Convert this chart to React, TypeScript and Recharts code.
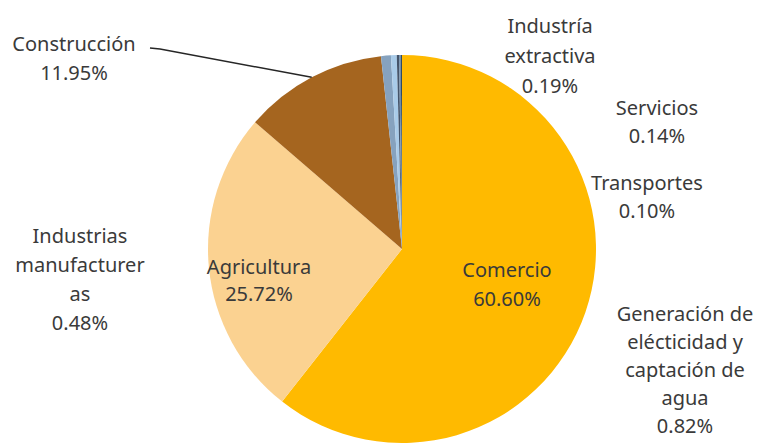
import React from "react";
import { PieChart, Pie, Cell } from "recharts";

// sectores y su participación (%)
const categories = [
  "Comercio",
  "Agricultura",
  "Construcción",
  "Generación de elécticidad y captación de agua",
  "Industrias manufactureras",
  "Industria extractiva",
  "Servicios",
  "Transportes",
];
const shares = [60.6, 25.72, 11.95, 0.82, 0.48, 0.19, 0.14, 0.1];

// texto de cada etiqueta tal como aparece (el % se añade al final)
const labelLines = [
  ["Comercio"],
  ["Agricultura"],
  ["Construcción"],
  ["Generación de", "elécticidad y", "captación de", "agua"],
  ["Industrias", "manufacturer", "as"],
  ["Industría", "extractiva"],
  ["Servicios"],
  ["Transportes"],
];

const sliceColors = ["#FFBA00", "#FBD291", "#A5651F", "#86A2BE", "#A9CBE8", "#44546A", "#6E8BA8", "#2E4A66"];

// dónde va cada etiqueta respecto al centro de la torta
const labelSpots = [
  { dx: 105, dy: 20, lh: 29 },
  { dx: -143, dy: 17, lh: 27 },
  { dx: -328, dy: -206, lh: 29, leader: { dx: -252, dy: -201 } },
  { dx: 283, dy: 64, lh: 28 },
  { dx: -322, dy: -14, lh: 29 },
  { dx: 148, dy: -224, lh: 30 },
  { dx: 255, dy: -142, lh: 28 },
  { dx: 245, dy: -67, lh: 28 },
];

const data = categories.map((name, i) => ({ name, value: shares[i] }));

const renderLabel = (props: any) => {
  const { cx, cy, midAngle, outerRadius, index, value } = props;
  const spot = labelSpots[index];
  const lines = [...labelLines[index], value.toFixed(2) + "%"];
  const x = cx + spot.dx;
  const y0 = cy + spot.dy;
  let leader = null;
  if (spot.leader) {
    const rad = Math.PI / 180;
    const ex = cx + outerRadius * Math.cos(-midAngle * rad);
    const ey = cy + outerRadius * Math.sin(-midAngle * rad);
    const sx = cx + spot.leader.dx;
    const sy = cy + spot.leader.dy;
    leader = (
      <polyline
        points={`${sx},${sy} ${sx + 10},${sy + 1} ${ex},${ey}`}
        fill="none"
        stroke="#262626"
        strokeWidth={1.5}
      />
    );
  }
  return (
    <g key={`lbl-${index}`}>
      {leader}
      {lines.map((t, i) => (
        <text
          key={i}
          x={x}
          y={y0 + i * spot.lh}
          textAnchor="middle"
          dominantBaseline="central"
          fill="#3a3a3a"
          fontSize={20}
          fontFamily="'Noto Sans', sans-serif"
        >
          {t}
        </text>
      ))}
    </g>
  );
};

export default function App() {
  return (
    <div style={{ position: "absolute", left: 0, top: 0, width: 758, height: 443, background: "#fff" }}>
      <PieChart width={758} height={443} margin={{ top: 0, right: 0, bottom: 0, left: 0 }}>
        <Pie
          data={data}
          dataKey="value"
          nameKey="name"
          cx={402}
          cy={249}
          outerRadius={194}
          startAngle={90}
          endAngle={-270}
          stroke="none"
          label={renderLabel}
          labelLine={false}
          isAnimationActive={false}
        >
          {data.map((d, i) => (
            <Cell key={d.name} fill={sliceColors[i]} />
          ))}
        </Pie>
      </PieChart>
    </div>
  );
}
